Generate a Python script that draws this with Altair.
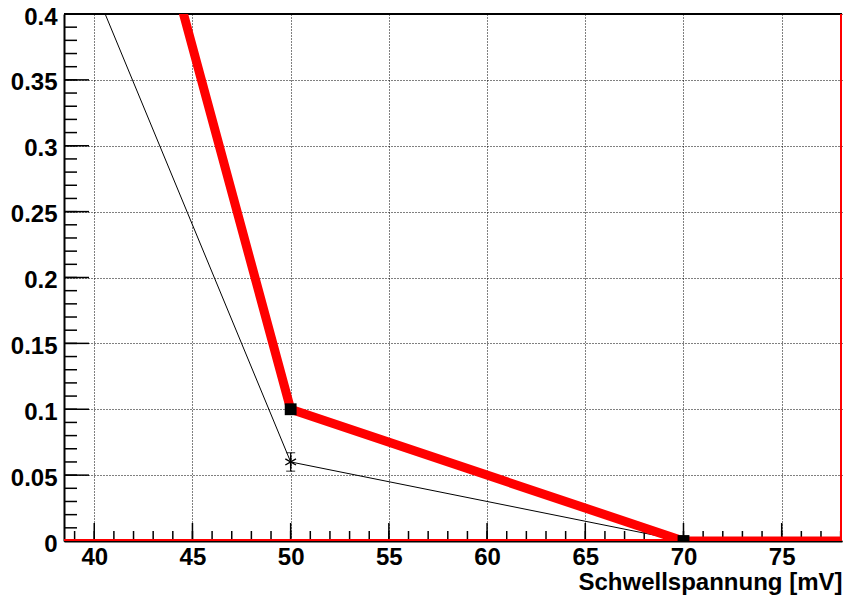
import altair as alt
import pandas as pd

# --- data ---
red_x = [40, 50, 70, 80]
red_y = [0.65, 0.10, 0.0, 0.0]

black_x = [40, 50, 70]
black_y = [0.42, 0.06, 0.0]
black_err = [0.0, 0.007, 0.0]

x_major = [40, 45, 50, 55, 60, 65, 70, 75]
y_major = [0, 0.05, 0.1, 0.15, 0.2, 0.25, 0.3, 0.35, 0.4]
x_minor = list(range(39, 79))
y_minor = [round(0.01 * i, 2) for i in range(1, 40)]

X_DOMAIN = [38.46, 78.07]
Y_DOMAIN = [0, 0.4]
W, H = 778, 527
FONT = "Liberation Sans"

red = pd.DataFrame({"x": red_x, "y": red_y})
black = pd.DataFrame({"x": black_x, "y": black_y, "e": black_err})
black["lo"] = black["y"] - black["e"]
black["hi"] = black["y"] + black["e"]
err = black[black["e"] > 0]

xs = alt.Scale(domain=X_DOMAIN, nice=False, zero=False)
ys = alt.Scale(domain=Y_DOMAIN, nice=False, zero=False)

x_axis = alt.Axis(
    values=x_major, grid=True, gridDash=[1, 2], gridColor="#000", gridWidth=1,
    ticks=False, domainColor="#000", domainWidth=2,
    labelFont=FONT, labelFontWeight="bold", labelFontSize=24, labelColor="#000",
    labelPadding=4, labelFlush=False,
    title="Schwellspannung [mV]", titleFont=FONT, titleFontWeight="bold",
    titleFontSize=24, titleColor="#000", titleAnchor="end", titleAlign="right",
    titleX=W, titleY=48, titleBaseline="alphabetic",
)
y_axis = alt.Axis(
    values=y_major, grid=True, gridDash=[1, 2], gridColor="#000", gridWidth=1,
    ticks=False, domainColor="#000", domainWidth=2, format="~g",
    labelFont=FONT, labelFontWeight="bold", labelFontSize=24, labelColor="#000",
    labelPadding=7, labelFlush=False, labelOffset=3, title=None,
)

base_black = alt.Chart(black)
base_red = alt.Chart(red)

# axes carrier (invisible points)
axes = alt.Chart(pd.DataFrame({"x": [40], "y": [0]})).mark_point(opacity=0).encode(
    x=alt.X("x:Q", scale=xs, axis=x_axis),
    y=alt.Y("y:Q", scale=ys, axis=y_axis),
)

# ticks (inward, ROOT style)
xmin_t = alt.Chart(pd.DataFrame({"v": x_minor})).mark_rule(color="#000", strokeWidth=1.5).encode(
    x=alt.X("v:Q", scale=xs), y=alt.value(H), y2=alt.value(H - 10))
xmaj_t = alt.Chart(pd.DataFrame({"v": x_major})).mark_rule(color="#000", strokeWidth=1.5).encode(
    x=alt.X("v:Q", scale=xs), y=alt.value(H), y2=alt.value(H - 18))
ymin_t = alt.Chart(pd.DataFrame({"v": y_minor})).mark_rule(color="#000", strokeWidth=1.5).encode(
    y=alt.Y("v:Q", scale=ys), x=alt.value(0), x2=alt.value(13))
ymaj_t = alt.Chart(pd.DataFrame({"v": y_major})).mark_rule(color="#000", strokeWidth=1.5).encode(
    y=alt.Y("v:Q", scale=ys), x=alt.value(0), x2=alt.value(25))

# frame pieces
top_frame = alt.Chart(pd.DataFrame({"v": [0.4]})).mark_rule(color="#000", strokeWidth=2).encode(
    y=alt.Y("v:Q", scale=ys), x=alt.value(0), x2=alt.value(W))
red_bottom = alt.Chart(pd.DataFrame({"v": [0.0]})).mark_rule(color="#ff0000", strokeWidth=2).encode(
    y=alt.Y("v:Q", scale=ys), yOffset=alt.value(-1), x=alt.value(0), x2=alt.value(W))
red_right = alt.Chart(pd.DataFrame({"v": [X_DOMAIN[1]]})).mark_rule(color="#ff0000", strokeWidth=2).encode(
    x=alt.X("v:Q", scale=xs), xOffset=alt.value(-1), y=alt.value(0), y2=alt.value(H))

black_line = base_black.mark_line(color="#000", strokeWidth=1, clip=True).encode(
    x=alt.X("x:Q", scale=xs), y=alt.Y("y:Q", scale=ys))
err_bar = alt.Chart(err).mark_rule(color="#000", strokeWidth=1.2).encode(
    x=alt.X("x:Q", scale=xs), y=alt.Y("lo:Q", scale=ys), y2="hi:Q")
err_cap_hi = alt.Chart(err).mark_tick(color="#000", orient="horizontal", size=9, thickness=1.2).encode(
    x=alt.X("x:Q", scale=xs), y=alt.Y("hi:Q", scale=ys))
err_cap_lo = alt.Chart(err).mark_tick(color="#000", orient="horizontal", size=9, thickness=1.2).encode(
    x=alt.X("x:Q", scale=xs), y=alt.Y("lo:Q", scale=ys))
star = "M0,-1L0,1M-0.87,-0.5L0.87,0.5M-0.87,0.5L0.87,-0.5"
black_pts = base_black.mark_point(shape=star, filled=False, color="#000", strokeWidth=1.4,
                                  size=150, opacity=1, clip=True).encode(
    x=alt.X("x:Q", scale=xs), y=alt.Y("y:Q", scale=ys))

red_line = base_red.mark_line(color="#ff0000", strokeWidth=9, clip=True).encode(
    x=alt.X("x:Q", scale=xs), y=alt.Y("y:Q", scale=ys))
red_pts = base_red.mark_square(color="#000", size=140, opacity=1, clip=True).encode(
    x=alt.X("x:Q", scale=xs), y=alt.Y("y:Q", scale=ys))

chart = alt.layer(
    axes, xmin_t, xmaj_t, ymin_t, ymaj_t, top_frame,
    black_line, err_bar, err_cap_hi, err_cap_lo, black_pts,
    red_bottom, red_line, red_right, red_pts,
).properties(
    width=W, height=H,
    autosize=alt.AutoSizeParams(type="none"),
    padding={"left": 64, "top": 14, "right": 2, "bottom": 60},
    background="white",
).configure_view(stroke=None)

chart.save("out.html", embed_options={"renderer": "svg", "actions": False})
